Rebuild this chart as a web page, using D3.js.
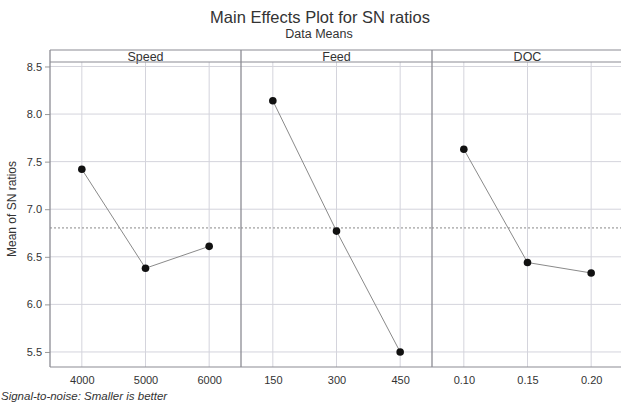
<!DOCTYPE html>
<html>
<head>
<meta charset="utf-8">
<script src="https://cdn.jsdelivr.net/npm/d3@7"></script>
<style>
  body { margin: 0; background: #fff; }
  text { font-family: "Liberation Sans", Arial, sans-serif; fill: #333; }
</style>
</head>
<body>
<div id="chart"></div>
<script>
// factors and their levels / means of SN ratios
var factors = ["Speed", "Feed", "DOC"];
var speedLevels = ["4000", "5000", "6000"];
var speedMeans = [7.42, 6.38, 6.61];
var feedLevels = ["150", "300", "450"];
var feedMeans = [8.14, 6.77, 5.50];
var docLevels = ["0.10", "0.15", "0.20"];
var docMeans = [7.63, 6.44, 6.33];
var yTicks = [5.5, 6.0, 6.5, 7.0, 7.5, 8.0, 8.5];

var panels = [
  {factor: factors[0], levels: speedLevels, means: speedMeans},
  {factor: factors[1], levels: feedLevels, means: feedMeans},
  {factor: factors[2], levels: docLevels, means: docMeans}
];

function mainEffects(selector, panels){
  var config = {width: 621, height: 406, left: 50, right: 623, top: 62, bottom: 367, strip: 12};

  var svg = d3.select("#" + selector).append("svg")
      .attr("width", config.width)
      .attr("height", config.height);

  // overall mean (same for every factor)
  var grand = d3.mean(panels[0].means);

  var y = d3.scaleLinear()
      .domain([5.342, 8.547])
      .range([config.bottom, config.top]);

  var px = d3.scaleBand()
      .domain(panels.map(function(p){ return p.factor; }))
      .range([config.left, config.right]);

  // titles
  svg.append("text")
      .attr("x", 320).attr("y", 22.5)
      .attr("text-anchor", "middle")
      .style("font-size", "16.5px")
      .text("Main Effects Plot for SN ratios");
  svg.append("text")
      .attr("x", 319).attr("y", 37.5)
      .attr("text-anchor", "middle")
      .style("font-size", "12.5px")
      .text("Data Means");

  // horizontal grid
  svg.append("g").selectAll("line")
      .data(yTicks).enter().append("line")
      .attr("x1", config.left).attr("x2", config.right)
      .attr("y1", function(d){ return y(d); })
      .attr("y2", function(d){ return y(d); })
      .attr("stroke", "#d4d4dc").attr("stroke-width", 1);

  // y axis
  var gy = svg.append("g")
      .attr("transform", "translate(" + config.left + ",0)")
      .call(d3.axisLeft(y).tickValues(yTicks).tickFormat(d3.format(".1f")).tickSize(5).tickPadding(3));
  gy.select(".domain").remove();
  gy.selectAll(".tick line").attr("stroke", "#999");
  gy.selectAll(".tick text")
      .style("font-size", "11px")
      .style("font-family", "'Liberation Sans', Arial, sans-serif")
      .attr("fill", "#333");

  svg.append("text")
      .attr("transform", "translate(16,209) rotate(-90)")
      .attr("text-anchor", "middle")
      .style("font-size", "12px")
      .text("Mean of SN ratios");

  panels.forEach(function(p){
    var x0 = px(p.factor);
    var x = d3.scalePoint()
        .domain(p.levels)
        .range([x0, x0 + px.bandwidth()])
        .padding(0.5);

    var g = svg.append("g");

    // vertical grid
    g.selectAll(".vgrid")
        .data(p.levels).enter().append("line")
        .attr("x1", function(d){ return x(d); })
        .attr("x2", function(d){ return x(d); })
        .attr("y1", config.top).attr("y2", config.bottom)
        .attr("stroke", "#d4d4dc");

    // reference line at grand mean
    g.append("line")
        .attr("x1", x0).attr("x2", x0 + px.bandwidth())
        .attr("y1", y(grand)).attr("y2", y(grand))
        .attr("stroke", "#888").attr("stroke-dasharray", "2,2");

    var pts = p.levels.map(function(l, i){ return [x(l), y(p.means[i])]; });

    g.append("path")
        .attr("d", d3.line()(pts))
        .attr("fill", "none")
        .attr("stroke", "#8a8a8a")
        .attr("stroke-width", 1);

    g.selectAll("circle")
        .data(pts).enter().append("circle")
        .attr("cx", function(d){ return d[0]; })
        .attr("cy", function(d){ return d[1]; })
        .attr("r", 3.8)
        .attr("fill", "#111");

    // x axis labels
    var gx = g.append("g")
        .attr("transform", "translate(0," + config.bottom + ")")
        .call(d3.axisBottom(x).tickSize(0).tickPadding(9));
    gx.select(".domain").remove();
    gx.selectAll(".tick text")
        .style("font-size", "11px")
        .style("font-family", "'Liberation Sans', Arial, sans-serif")
        .attr("fill", "#333");

    // strip label
    g.append("text")
        .attr("x", x0 + px.bandwidth() / 2)
        .attr("y", config.top - 1.2)
        .attr("text-anchor", "middle")
        .style("font-size", "12.5px")
        .text(p.factor);

    // panel divider
    g.append("line")
        .attr("x1", x0).attr("x2", x0)
        .attr("y1", config.top - config.strip).attr("y2", config.bottom)
        .attr("stroke", "#8c8c94").attr("stroke-width", 1.3);
  });

  // frame lines
  svg.append("line")
      .attr("x1", config.right).attr("x2", config.right)
      .attr("y1", config.top - config.strip).attr("y2", config.bottom)
      .attr("stroke", "#8c8c94");
  [config.top - config.strip, config.top, config.bottom].forEach(function(v){
    svg.append("line")
        .attr("x1", config.left).attr("x2", config.right)
        .attr("y1", v).attr("y2", v)
        .attr("stroke", "#8c8c94").attr("stroke-width", 1.2);
  });

  svg.append("text")
      .attr("x", 1).attr("y", 400)
      .style("font-size", "11.5px")
      .style("font-style", "italic")
      .text("Signal-to-noise: Smaller is better");
}

mainEffects("chart", panels);
</script>
</body>
</html>
